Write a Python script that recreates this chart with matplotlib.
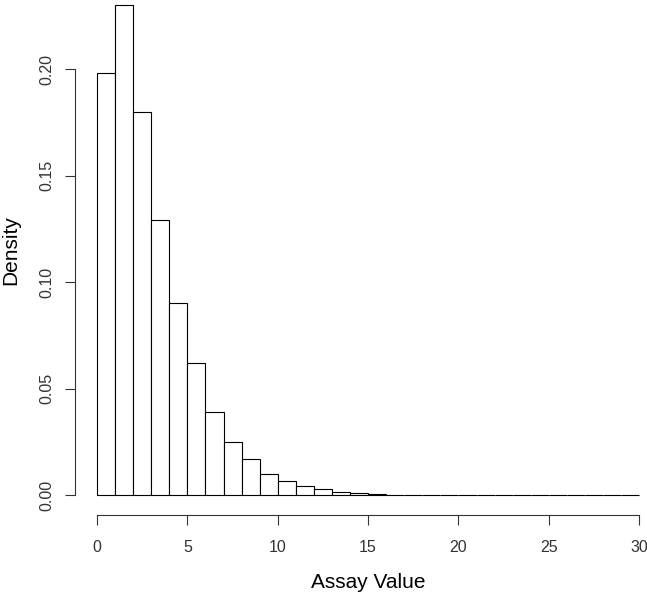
import numpy as np
import matplotlib
matplotlib.use("Agg")
import matplotlib.pyplot as plt

# histogram of assay values (density scale), bins of width 1 from 0 to 30
bin_edges = np.arange(0, 31, 1)
density = [0.198, 0.230, 0.180, 0.129, 0.090, 0.062, 0.039, 0.025,
           0.0167, 0.0100, 0.0066, 0.0041, 0.0027, 0.0014, 0.0009, 0.0004,
           0, 0, 0, 0, 0, 0, 0, 0, 0, 0, 0, 0, 0, 0]
x_ticks = [0, 5, 10, 15, 20, 25, 30]
y_ticks = [0.00, 0.05, 0.10, 0.15, 0.20]

plt.rcParams["font.family"] = ["Liberation Sans", "DejaVu Sans"]

fig = plt.figure(figsize=(6.47, 6.0), dpi=100)
fig.patch.set_facecolor("white")
# R-style plot region; top and right run past the figure edge (cropped)
ax = fig.add_axes([0.1164, 0.1423, 0.905, 0.8818])

ax.bar(bin_edges[:-1], density, width=1, align="edge",
       facecolor="white", edgecolor="black", linewidth=0.8)

ax.set_xlim(-1.2, 31.2)
ax.set_ylim(-0.0092, 0.2392)

for side in ["top", "right"]:
    ax.spines[side].set_visible(False)
ax.spines["left"].set_bounds(0, 0.20)
ax.spines["bottom"].set_bounds(0, 30)
for side in ["left", "bottom"]:
    ax.spines[side].set_color("#333333")
    ax.spines[side].set_linewidth(0.8)

ax.set_xticks(x_ticks)
ax.set_xticklabels([str(t) for t in x_ticks])
ax.set_yticks(y_ticks)
ax.set_yticklabels([f"{t:.2f}" for t in y_ticks], rotation=90, va="center")
ax.tick_params(axis="both", length=7, width=0.8, color="#333333",
               labelsize=11.5, labelcolor="#333333")
ax.tick_params(axis="x", pad=11)
ax.tick_params(axis="y", pad=8)

ax.set_xlabel("Assay Value", fontsize=15, labelpad=13)
ax.set_ylabel("Density", fontsize=15, labelpad=14)

fig.savefig("out.png", dpi=100, facecolor="white")
